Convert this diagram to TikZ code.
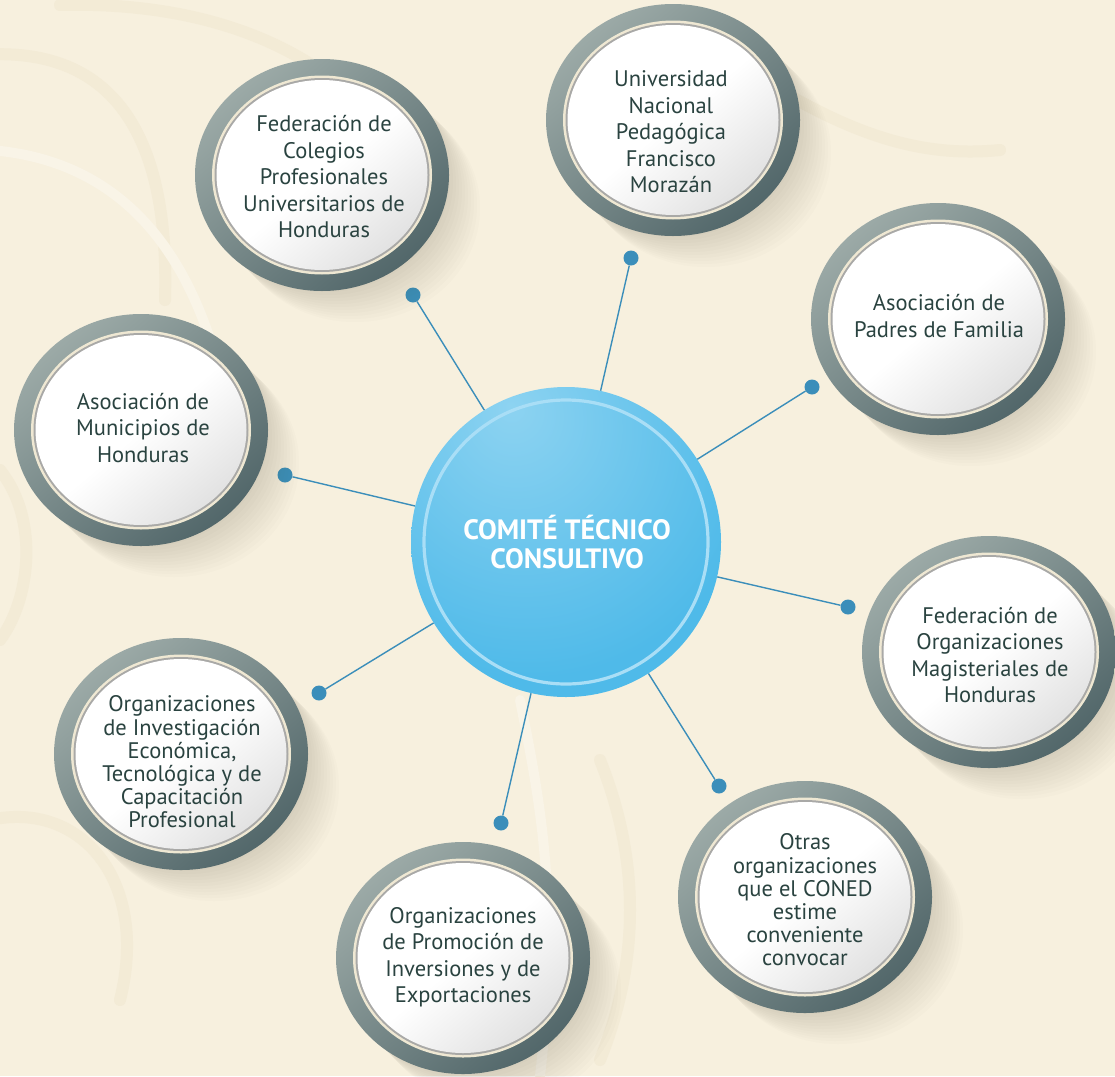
\documentclass[tikz,border=0pt]{standalone}
\usepackage{fontspec}
\setmainfont{PT Sans}
\usetikzlibrary{shapes.geometric}
\definecolor{bgc}{HTML}{F7F0DE}
\definecolor{swirlc}{HTML}{F3EBD6}
\definecolor{swirll}{HTML}{F9F4E7}
\definecolor{ringlight}{HTML}{9CAAA7}
\definecolor{ringdark}{HTML}{52676A}
\definecolor{creamc}{HTML}{EFE8D3}
\definecolor{linegray}{HTML}{A9A9A7}
\definecolor{innergray}{HTML}{E2E2E2}
\definecolor{txtc}{HTML}{2A4340}
\definecolor{bluelight}{HTML}{8DD3F1}
\definecolor{bluemain}{HTML}{4FBAE9}
\definecolor{bluering}{HTML}{A9DEF6}
\definecolor{dotc}{HTML}{3B8EBA}
\definecolor{shadowc}{HTML}{6B6450}
\pgfdeclareradialshading{bluespot}{\pgfpoint{-9bp}{22bp}}{color(0bp)=(bluelight); color(36bp)=(bluemain); color(100bp)=(bluemain)}

\tikzset{
  orgtext/.style={font=\fontsize{22.5}{26.5}\selectfont, text=txtc, align=center, inner sep=0pt},
  tight/.style={font=\fontsize{22.5}{23.2}\selectfont},
  dotnode/.style={circle, fill=dotc, minimum size=15pt, inner sep=0pt},
  conn/.style={draw=dotc, line width=1.4pt},
  swirl/.style={draw=swirlc, line width=12pt, line cap=round},
  swirlb/.style={draw=swirll, line width=10pt, line cap=round}
}

% #1 name, #2 ring centre, #3 text centre, #4 extra text style, #5 text
\newcommand\orgcircle[5]{%
  \begin{scope}[shift={(#2)}]
    \foreach \k in {3,6,...,33}
      \fill[shadowc,opacity=0.018] (\k,-\k) ellipse [x radius=125, y radius=114];
    \shade[top color=ringlight, bottom color=ringdark, shading angle=40] (0,0) ellipse [x radius=127, y radius=116];
    \fill[creamc] (0,0) ellipse [x radius=110, y radius=99.5];
    \fill[linegray] (0,0) ellipse [x radius=107.5, y radius=97];
    \shade[top color=white, bottom color=innergray, middle color=white, shading angle=40] (0,0) ellipse [x radius=105.5, y radius=95];
  \end{scope}
  \node[orgtext,#4] (#1) at (#3) {#5};
}

\begin{document}
\begin{tikzpicture}[x=1pt,y=1pt]
\useasboundingbox (0,0) rectangle (1115,-1076);
\fill[bgc] (0,0) rectangle (1115,-1076);

% faint background swirls
\draw[swirl] (-20,-55) .. controls (110,-45) and (170,-130) .. (165,-300);
\draw[swirl] (60,-5) .. controls (250,0) and (380,-80) .. (420,-200);
\draw[swirlb] (-10,-150) .. controls (120,-160) and (200,-250) .. (230,-420);
\draw[swirl] (0,-470) .. controls (40,-520) and (30,-600) .. (0,-640);
\draw[swirl] (-10,-820) .. controls (80,-800) and (150,-880) .. (120,-1000);
\draw[swirlb] (520,-700) .. controls (540,-800) and (560,-900) .. (540,-1076);
\draw[swirl] (600,-760) .. controls (640,-860) and (640,-960) .. (600,-1060);
\draw[swirl] (700,-40) .. controls (820,-120) and (900,-160) .. (1000,-150);

% centre
\node[circle, minimum size=310pt, inner sep=0pt, shade, shading=bluespot] (cen) at (566,-542) {};

% dots and connectors
\node[dotnode] (d1) at (413,-295) {};
\node[dotnode] (d2) at (631,-258) {};
\node[dotnode] (d3) at (812,-387) {};
\node[dotnode] (d4) at (285,-475) {};
\node[dotnode] (d5) at (848,-607) {};
\node[dotnode] (d6) at (319,-693) {};
\node[dotnode] (d7) at (719,-786) {};
\node[dotnode] (d8) at (501,-823) {};
\foreach \d in {d1,d2,d3,d4,d5,d6,d7,d8}
  \draw[conn] (cen) -- (\d);

\draw[bluering, line width=3.2pt] (cen.center) circle (142);
\node[font=\fontsize{28}{28.5}\selectfont\bfseries, text=white, align=center] (title) at (567,-542) {COMITÉ TÉCNICO\\CONSULTIVO};

% outer organisations
\orgcircle{col}{322,-175}{324,-177}{}{Federación de\\Colegios\\Profesionales\\Universitarios de\\Honduras}
\orgcircle{unv}{673,-120}{671,-132}{}{Universidad\\Nacional\\Pedagógica\\Francisco\\Morazán}
\orgcircle{pad}{938,-319}{939,-316}{}{Asociación de\\Padres de Familia}
\orgcircle{mun}{141,-430}{143,-428}{}{Asociación de\\Municipios de\\Honduras}
\orgcircle{mag}{989,-652}{990,-655}{}{Federación de\\Organizaciones\\Magisteriales de\\Honduras}
\orgcircle{inv}{181,-754}{182,-762}{tight}{Organizaciones\\de Investigación\\Económica,\\Tecnológica y de\\Capacitación\\Profesional}
\orgcircle{otr}{805,-897}{805,-900}{tight}{Otras\\organizaciones\\que el CONED\\estime\\conveniente\\convocar}
\orgcircle{pro}{463,-958}{463,-957}{}{Organizaciones\\de Promoción de\\Inversiones y de\\Exportaciones}
\end{tikzpicture}
\end{document}
